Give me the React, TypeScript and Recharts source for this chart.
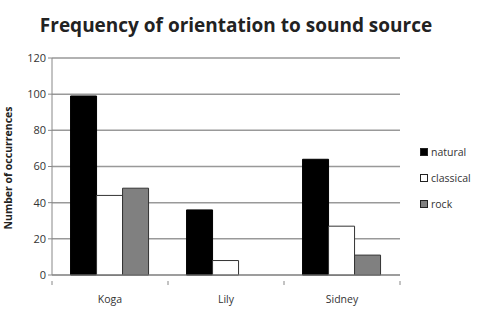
import React from 'react';
import { BarChart, Bar, XAxis, YAxis, CartesianGrid } from 'recharts';

const categories = ['Koga', 'Lily', 'Sidney'];
const natural = [99, 36, 64];
const classical = [44, 8, 27];
const rock = [48, 0, 11];
const yTicks = [0, 20, 40, 60, 80, 100, 120];

const data = categories.map((c, i) => ({
  name: c,
  natural: natural[i],
  classical: classical[i],
  rock: rock[i],
}));

const FONT = '"Open Sans", Lato, sans-serif';

const legendItems = [
  { label: 'natural', fill: '#000000' },
  { label: 'classical', fill: '#ffffff' },
  { label: 'rock', fill: '#808080' },
];

const XTick = (props: any) => {
  const { x, y, payload, index } = props;
  const off = payload && payload.offset ? payload.offset : 0;
  const axisY = y - 10;
  return (
    <g>
      <line x1={x - off} x2={x - off} y1={axisY} y2={axisY + 4} stroke="#888" />
      {index === categories.length - 1 && (
        <line x1={x + off} x2={x + off} y1={axisY} y2={axisY + 4} stroke="#888" />
      )}
      <text x={x} y={y + 12} textAnchor="middle" fontFamily={FONT} fontSize={10.5} fill="#333">
        {payload.value}
      </text>
    </g>
  );
};

export default function App() {
  return (
    <div style={{ position: 'absolute', left: 0, top: 0, width: 480, height: 320, background: '#fff' }}>
      <div
        style={{
          position: 'absolute',
          left: 0,
          top: 12,
          width: 472,
          textAlign: 'center',
          fontFamily: FONT,
          fontWeight: 700,
          fontSize: 19,
          color: '#222',
          lineHeight: '26px',
        }}
      >
        Frequency of orientation to sound source
      </div>
      <div
        style={{
          position: 'absolute',
          left: 8,
          top: 168,
          transform: 'translate(-50%, -50%) rotate(-90deg)',
          whiteSpace: 'nowrap',
          fontFamily: FONT,
          fontWeight: 700,
          fontSize: 10.5,
          color: '#222',
        }}
      >
        Number of occurrences
      </div>
      <div
        style={{
          position: 'absolute',
          left: 420,
          top: 139,
          fontFamily: FONT,
          fontSize: 10.5,
          color: '#333',
        }}
      >
        {legendItems.map((it) => (
          <div key={it.label} style={{ display: 'flex', alignItems: 'center', height: 26 }}>
            <span
              style={{
                display: 'inline-block',
                width: 6,
                height: 6,
                background: it.fill,
                border: '1px solid #222',
                marginRight: 3,
              }}
            />
            <span>{it.label}</span>
          </div>
        ))}
      </div>
      <div style={{ position: 'absolute', left: 0, top: 0 }}>
        <BarChart
          width={480}
          height={320}
          data={data}
          margin={{ top: 58, right: 80, bottom: 0, left: 0 }}
          barGap={0}
          barCategoryGap="16%"
        >
          <CartesianGrid vertical={false} stroke="#999999" strokeWidth={1.5} />
          <XAxis
            dataKey="name"
            height={45}
            axisLine={{ stroke: '#888' }}
            tickLine={false}
            tick={<XTick />}
            tickMargin={10}
          />
          <YAxis
            width={52}
            domain={[0, 120]}
            ticks={yTicks}
            axisLine={{ stroke: '#888' }}
            tickLine={{ stroke: '#888' }}
            tickSize={4}
            tick={{ fontFamily: FONT, fontSize: 11, fill: '#333' }}
          />
          <Bar dataKey="natural" fill="#000000" stroke="#000000" isAnimationActive={false} />
          <Bar dataKey="classical" fill="#ffffff" stroke="#333333" isAnimationActive={false} />
          <Bar dataKey="rock" fill="#808080" stroke="#333333" isAnimationActive={false} />
        </BarChart>
      </div>
    </div>
  );
}
